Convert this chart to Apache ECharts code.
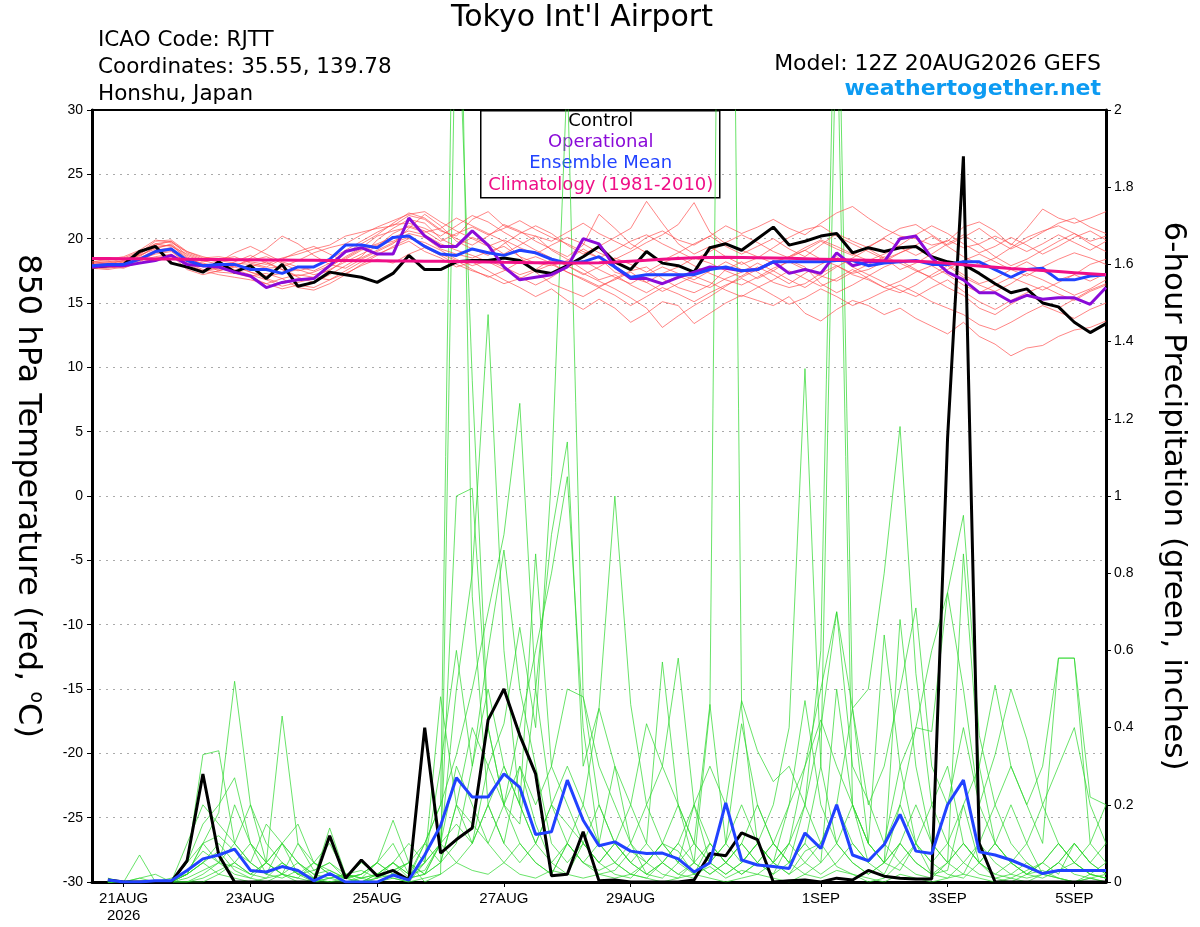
<!DOCTYPE html>
<html>
<head>
<meta charset="utf-8">
<script src="https://cdn.jsdelivr.net/npm/echarts@6.0.0/dist/echarts.min.js"></script>
<style>
html,body{margin:0;padding:0;background:#fff;}
#chart{width:1200px;height:927px;}
</style>
</head>
<body>
<div id="chart"></div>
<script>
// time: 6-hourly steps, hours relative to 21AUG 00Z
const tempStartHour = -12;   // temperatures start at 20AUG 12Z
const precipStartHour = -6;  // 6-hour precipitation starts at 20AUG 18Z
const stepHours = 6;

const xTickHours = [0, 48, 96, 144, 192, 264, 312, 360];
const xTickLabels = ['21AUG\n2026', '23AUG', '25AUG', '27AUG', '29AUG', '1SEP', '3SEP', '5SEP'];

// 850 hPa temperature (deg C)
const controlTemp = [17.8, 17.9,18.0,19.0,19.4,18.1,17.8,17.4,18.2, 17.4,17.9,16.9,18.0,16.3,16.6,17.4,17.2,
  17.0,16.6,17.3,18.7,17.6,17.6,18.2,18.3, 18.3,18.5,18.3,17.5,17.3,17.9,18.6,19.4,
  18.2,17.6,19.0,18.1,17.9,17.4,19.3,19.6, 19.1,20.0,20.9,19.5,19.8,20.2,20.4,18.9,
  19.3,19.0,19.3,19.4,18.6,18.2,18.0,17.3, 16.5,15.8,16.1,15.0,14.7,13.5,12.7,13.4];
const operationalTemp = [17.8, 17.9,17.9,18.1,18.3,18.7,18.0,17.9,17.8, 17.4,17.1,16.2,16.6,16.8,16.9,17.9,19.0,
  19.3,18.8,18.8,21.6,20.2,19.4,19.4,20.6, 19.5,17.8,16.8,17.0,17.2,17.8,20.0,19.6,
  17.8,16.9,16.9,16.5,17.0,17.4,17.8,17.7, 17.5,17.6,18.2,17.3,17.6,17.3,18.9,17.9,
  18.2,18.2,20.0,20.2,18.5,17.4,16.8,15.8, 15.8,15.1,15.6,15.3,15.4,15.4,14.9,16.2];
const meanTemp = [17.9, 18.0,18.0,18.4,19.0,19.2,18.3,17.9,18.0, 18.0,17.6,17.6,17.3,17.8,17.8,18.4,19.5,
  19.5,19.3,20.1,20.2,19.4,18.8,18.7,19.2, 18.9,18.7,19.1,18.9,18.4,18.1,18.2,18.6,
  17.8,17.0,17.2,17.2,17.2,17.2,17.6,17.8, 17.5,17.6,18.2,18.2,18.2,18.2,18.3,18.3,
  17.9,18.1,18.2,18.3,18.0,18.0,18.2,18.2, 17.6,17.0,17.6,17.7,16.8,16.8,17.1,17.2];
const climTemp = [18.46, 18.45,18.44,18.43,18.42,18.41,18.40,18.39,18.38, 18.37,18.36,18.35,18.34,18.33,18.32,18.31,18.30,
  18.29,18.28,18.27,18.26,18.25,18.24,18.22,18.20, 18.18,18.16,18.15,18.13,18.12,18.11,18.10,18.12,
  18.18,18.25,18.32,18.40,18.46,18.51,18.54,18.55, 18.54,18.52,18.50,18.47,18.44,18.41,18.38,18.35,
  18.32,18.29,18.27,18.25,18.18,18.08,17.98,17.88, 17.78,17.68,17.60,17.52,17.44,17.36,17.28,17.20];

// ensemble member temperatures
const memberTemp1 = [18.1, 18.2,18.4,18.9,19.8,19.9,19.0,18.5,18.6, 18.4,18.2,18.0,18.5,18.8,19.2,19.5,20.2, 20.5,20.8,21.0,21.8,21.5,20.6,20.2,21.5, 22.1,21.0,20.5,20.2,19.8,20.5,21.2,20.4, 19.8,19.2,20.1,20.6,19.9,19.5,20.2,21.0, 20.4,20.9,21.5,20.8,20.3,21.2,22.0,22.5, 21.6,20.8,20.2,20.0,19.5,19.8,20.9,21.3, 20.6,19.5,20.8,22.3,21.6,21.2,21.6,22.1];
const memberTemp2 = [17.8, 17.8,17.7,18.2,18.9,19.1,18.0,17.5,17.2, 17.0,16.8,16.5,16.9,17.2,17.0,16.8,17.5, 18.2,18.8,19.3,19.8,19.0,18.5,17.8,18.2, 17.5,16.8,16.2,15.5,16.1,15.2,14.5,15.3, 14.6,13.5,14.2,15.1,14.8,13.4,14.2,15.0, 15.6,15.2,14.8,15.5,14.2,13.6,14.5,15.2, 14.8,14.1,14.6,13.8,13.2,12.6,13.5,12.4, 11.8,10.9,11.5,11.7,12.4,12.9,13.1,13.6];
const memberTemp3 = [17.9, 18.0,18.1,18.6,19.4,19.5,18.4,18.1,17.8, 18.0,17.4,17.1,17.3,17.6,17.2,17.5,18.4, 19.1,19.5,19.8,20.4,20.1,19.2,18.8,18.5, 19.0,19.4,18.6,18.1,17.9,18.3,19.2,18.5, 17.4,17.0,16.6,17.3,17.8,18.5,18.1,17.5, 17.0,17.6,18.2,18.6,19.1,18.4,17.9,17.3, 17.6,18.2,18.9,19.4,18.6,18.0,17.2,16.5, 16.9,17.6,18.2,17.5,16.8,17.2,18.0,18.4];
const memberTemp4 = [17.9, 17.9,18.2,18.7,19.2,19.6,18.6,17.9,17.6, 18.2,18.7,18.1,17.6,17.0,16.6,17.2,17.9, 18.6,19.9,20.8,21.5,21.2,20.0,19.4,20.1, 19.6,18.8,19.5,20.2,19.1,18.4,17.6,16.8, 17.2,16.4,15.8,16.5,17.1,16.6,16.2,16.9, 17.4,18.1,17.5,16.8,16.2,17.0,17.8,18.5, 19.2,18.5,17.6,18.1,18.8,19.6,20.3,19.5, 18.6,17.9,18.4,19.1,19.8,20.4,19.6,19.0];
const memberTemp5 = [18.0, 18.1,18.0,18.5,19.1,19.3,18.2,17.8,17.9, 17.6,17.2,16.8,16.3,16.6,16.9,17.8,18.6, 19.3,20.2,20.6,20.9,20.5,20.8,21.6,21.0, 20.4,19.8,18.6,17.4,16.5,16.0,15.5,16.2, 16.9,17.5,17.8,16.9,16.2,15.8,16.4,17.6, 18.2,17.4,16.6,16.2,16.5,17.3,17.9,17.2, 16.8,16.2,15.8,16.4,17.2,17.9,17.0,16.4, 15.9,16.5,17.3,16.8,16.2,15.6,16.1,16.8];
const memberTemp6 = [18.2, 18.3,18.5,19.0,19.6,19.4,18.8,18.3,18.0, 17.8,18.5,19.2,20.2,19.6,18.7,18.0,17.7, 18.4,19.0,19.6,20.8,21.9,21.0,19.8,19.2, 18.7,19.6,20.4,21.0,20.4,19.5,18.8,19.4, 20.1,20.8,22.9,21.2,19.6,18.8,19.4,18.6, 18.0,18.5,19.3,20.1,20.7,21.0,20.2,19.6, 19.0,18.4,18.9,19.5,20.2,19.4,18.6,18.0, 18.5,19.3,20.1,20.6,21.0,20.4,19.8,20.2];
const memberTemp7 = [17.7, 17.7,17.9,18.4,18.8,19.0,18.1,17.6,17.4, 17.3,17.0,16.5,16.1,16.4,16.2,16.8,17.3, 17.9,18.4,18.1,18.8,19.3,18.7,18.0,17.5, 17.1,16.5,16.9,17.5,18.0,17.4,16.8,16.2, 15.6,14.8,15.5,16.2,15.7,15.1,15.8,16.4, 16.9,16.3,15.6,14.9,15.4,16.1,15.5,14.8, 15.3,15.9,16.4,15.8,15.1,14.6,14.1,13.3, 12.9,13.5,14.2,14.8,14.3,13.8,14.5,15.0];
const memberTemp8 = [17.9, 18.0,18.3,18.8,19.5,19.8,18.9,18.4,18.2, 18.9,19.4,18.8,18.2,17.8,17.5,18.1,18.9, 19.6,20.3,21.2,22.0,21.6,20.7,20.0,19.5, 20.2,21.1,20.6,19.8,19.2,18.6,19.5,21.9, 20.8,19.6,18.9,18.3,18.9,19.6,20.2,19.4, 18.8,19.4,20.0,19.2,18.6,19.5,20.4,19.8, 19.3,20.1,20.8,21.1,20.3,19.5,20.1,20.8, 19.9,19.2,19.8,20.5,21.2,21.6,20.9,20.4];
const memberTemp9 = [17.8, 17.9,17.8,18.3,18.6,18.8,17.8,17.5,17.7, 17.4,17.1,17.3,16.9,16.2,16.0,16.5,17.2, 18.0,18.7,19.4,20.0,19.7,19.1,18.4,17.9, 18.3,17.8,17.2,17.6,18.4,17.9,17.3,16.7, 16.1,15.4,14.6,13.1,14.0,14.8,15.5,16.3, 17.1,17.8,17.2,16.5,17.3,18.0,18.6,17.8, 17.2,16.6,16.0,15.5,16.2,16.8,15.9,15.1, 14.5,15.2,15.8,16.3,15.7,15.2,15.9,16.4];
const memberTemp10 = [18.2, 18.4,18.6,19.1,19.9,19.7,19.0,18.6,18.3, 18.1,18.0,17.7,17.8,18.3,18.9,19.3,19.6, 20.3,20.9,21.4,21.9,22.1,21.3,20.6,20.0, 19.4,19.9,19.3,18.8,19.5,20.1,19.6,18.9, 18.4,19.0,19.7,20.3,21.1,22.8,20.5,19.6, 19.1,18.6,18.1,18.6,19.3,19.9,19.4,18.8, 18.3,18.8,19.5,20.3,21.0,20.4,19.6,18.9, 19.4,20.1,19.5,18.8,19.4,20.1,20.6,19.9];
const memberTemp11 = [17.8, 17.8,18.0,18.4,19.0,19.2,18.3,18.0,17.8, 17.5,17.8,18.2,17.6,17.1,17.4,17.9,18.5, 19.2,19.6,20.1,20.6,20.3,19.6,19.1,18.7, 18.2,17.6,17.0,16.4,17.0,17.8,18.3,17.6, 17.0,16.5,17.2,17.8,17.3,16.8,17.5,18.2, 17.6,16.9,17.5,18.3,17.8,16.5,15.8,16.4, 17.1,17.8,18.3,17.6,16.9,16.2,15.6,14.6, 14.1,14.9,15.6,15.1,14.6,15.3,16.0,16.5];
const memberTemp12 = [18.0, 18.1,18.3,18.7,19.3,19.5,18.5,18.0,17.5, 17.9,18.3,18.6,18.1,17.5,17.8,18.4,19.1, 19.8,20.5,21.1,21.2,20.8,20.2,21.0,21.8, 21.3,20.5,19.8,19.1,18.5,17.9,17.2,17.8, 18.5,18.0,17.4,18.1,18.6,17.9,17.3,16.8, 16.4,17.0,17.7,18.2,17.6,17.1,16.7,17.4, 18.0,18.6,18.1,17.5,17.0,17.6,18.3,18.8, 18.2,17.6,17.1,17.8,18.4,18.9,18.5,18.0];
const memberTemp13 = [17.7, 17.6,17.8,18.1,18.5,18.7,17.6,17.2,17.5, 17.8,17.4,16.9,16.5,16.8,17.0,17.6,18.2, 18.5,19.1,19.7,20.1,19.5,18.8,18.3,17.6, 17.0,17.5,18.2,18.6,18.1,17.4,16.9,16.3, 16.8,17.4,16.6,15.9,16.5,17.1,16.6,16.0, 15.5,16.2,16.8,17.5,16.9,16.3,16.9,17.6, 16.9,16.2,16.7,17.4,17.9,17.2,16.4,15.8, 16.4,17.0,16.5,16.0,16.6,17.2,16.7,17.3];
const memberTemp14 = [18.1, 18.2,18.2,18.8,19.6,19.8,18.7,18.2,18.4, 18.6,18.1,17.8,18.4,19.0,19.4,18.8,18.2, 18.8,19.4,20.4,21.0,20.6,19.8,20.4,20.9, 20.3,20.8,21.4,20.7,20.1,19.6,19.0,18.5, 19.1,19.8,20.3,19.6,19.0,18.4,19.0,19.7, 20.3,19.7,19.0,18.5,19.1,19.8,19.2,18.7, 19.4,20.0,19.3,18.7,19.3,19.9,19.3,19.6, 20.2,19.6,19.0,19.6,20.3,19.7,19.1,19.8];
const memberTemps = [memberTemp1, memberTemp2, memberTemp3, memberTemp4, memberTemp5, memberTemp6, memberTemp7,
  memberTemp8, memberTemp9, memberTemp10, memberTemp11, memberTemp12, memberTemp13, memberTemp14];

// 6-hour precipitation (inches)
const controlPrecip = [0.005,0,0,0,0,0.055,0.28,0.07, 0,0,0,0,0,0,0.12,0.01,
  0.057,0.016,0.03,0.005,0.40,0.075,0.11,0.14, 0.42,0.50,0.38,0.28,0.016,0.02,0.13,0.003,
  0.005,0,0,0,0,0.005,0.074,0.068, 0.127,0.11,0,0.003,0.005,0,0.01,0.005,
  0.03,0.015,0.01,0.008,0.008,1.15,1.88,0.1, 0,0,0,0,0,0,0,0];
const meanPrecip = [0.005,0,0,0.003,0.003,0.03,0.06,0.07, 0.085,0.03,0.026,0.04,0.03,0.003,0.022,0,
  0,0,0.018,0.005,0.07,0.146,0.27,0.22, 0.22,0.28,0.245,0.123,0.13,0.264,0.16,0.094,
  0.104,0.08,0.074,0.075,0.06,0.026,0.05,0.205, 0.057,0.044,0.04,0.035,0.127,0.087,0.20,0.07,
  0.055,0.097,0.175,0.08,0.074,0.2,0.264,0.078, 0.07,0.057,0.04,0.022,0.03,0.03,0.03,0.03];

const memberPrecip1 = [0,0,0,0,0,0.02,0.05,0.08, 0.03,0.01,0,0.02,0.05,0.01,0,0, 0,0.01,0.03,0.05,0,0.02,2.4,1.3, 0.4,0.2,0.1,0.05,0.02,0.1,0.05,0.02, 0.03,0.08,0.05,0.02,0.01,0.05,0.45,4.5, 0.45,0.1,0.05,0.02,0.08,0.1,0.04,0.02, 0,0.01,0.05,0.1,0.02,0.03,0.2,0.05, 0.01,0,0.02,0.03,0.01,0,0.02,0.01];
const memberPrecip2 = [0,0,0.01,0,0,0.05,0.33,0.34, 0.1,0.05,0.02,0.01,0.03,0.01,0.14,0.02, 0.01,0,0.02,0.01,0.1,0.2,3.0,0.74, 0.2,0.1,0.3,0.15,0.05,0.02,0.1,0.05, 0.02,0.01,0.05,0.1,0.08,0.02,0.04,0.01, 0.03,0.02,0.05,0.1,0.2,0.6,2.6,0.45, 0.1,0.05,0.03,0.1,0.05,0.02,0.01,0.05, 0.1,0.05,0.02,0.01,0.03,0.05,0.02,0.01];
const memberPrecip3 = [0,0,0.07,0,0,0.02,0.1,0.18, 0.52,0.2,0.1,0.05,0.02,0.03,0.05,0.01, 0,0.02,0.05,0.02,0.03,0.1,0.5,0.8, 1.47,0.6,0.2,0.1,0.05,0.1,0.05,0.03, 0.05,0.02,0.01,0.05,0.1,0.05,0.02,0.05, 0.1,0.05,0.02,0.05,0.1,0.3,2.3,0.2, 0.05,0.1,0.05,0.02,0.01,0.05,0.1,0.05, 0.02,0.01,0.03,0.05,0.1,0.05,0.02,0.01];
const memberPrecip4 = [0,0,0,0,0,0.05,0.15,0.2, 0.27,0.1,0.05,0.43,0.1,0.05,0.02,0.01, 0.02,0.05,0.16,0.05,0.1,0.2,0.33,0.5, 0.7,0.9,1.24,0.5,0.2,0.1,0.05,0.1, 0.05,0.1,0.02,0.05,0.02,0.01,0.05,0.1, 0.05,0.1,0.2,0.4,1.33,0.3,0.1,0.05, 0.02,0.05,0.1,0.05,0.02,0.01,0.05,0.1, 0.05,0.02,0.01,0.02,0.05,0.02,0.01,0];
const memberPrecip5 = [0,0,0,0,0,0.02,0.05,0.1, 0.05,0.02,0.05,0.1,0.05,0.02,0.01,0, 0,0.02,0.01,0,0.05,0.48,0.2,0.1, 0.3,0.41,0.66,0.4,1.05,2.1,0.48,0.2, 0.1,0.05,0.02,0.01,0.05,0.1,0.05,0.02, 0.05,0.1,0.05,0.2,0.3,0.5,0.7,0.45, 0.5,0.8,1.18,0.54,0.2,0.1,0.05,0.02, 0.01,0.02,0.05,0.02,0.01,0,0.01,0.02];
const memberPrecip6 = [0,0,0.01,0.02,0,0.1,0.2,0.15, 0.1,0.05,0.15,0.1,0.05,0.02,0.03,0.01, 0.05,0.02,0.05,0.1,0.05,0.1,1.0,1.02, 0.4,0.2,0.15,0.5,0.9,1.14,0.3,0.45, 1.0,0.46,0.2,0.1,0.05,0.02,0.1,0.05, 0.02,0.05,0.1,0.05,0.1,0.05,0.1,0.2, 0.1,0.05,0.2,0.4,0.6,0.75,0.95,0.38, 0.2,0.1,0.05,0.02,0.05,0.1,0.05,0.02];
const memberPrecip7 = [0,0,0,0,0,0.03,0.08,0.05, 0.1,0.2,0.05,0.02,0.1,0.03,0.05,0.02, 0.01,0.05,0.02,0.01,0.02,0.05,0.1,0.3, 0.6,0.86,0.5,0.3,0.1,0.05,0.1,0.2, 0.1,0.2,0.41,0.3,0.58,0.2,0.05,0.02, 0.05,0.1,0.05,0.02,0.05,0.1,0.2,0.1, 0.05,0.1,0.2,0.1,0.05,0.1,0.2,0.3, 0.51,0.3,0.2,0.1,0.58,0.58,0.22,0.2];
const memberPrecip8 = [0,0,0,0,0,0,0.02,0.05, 0.02,0.01,0.05,0.02,0.01,0,0.01,0.02, 0.03,0.01,0.05,0.02,0.1,0.05,0.2,0.4, 0.3,0.2,0.4,0.6,0.8,1.05,0.4,0.1, 0.3,0.2,0.1,0.57,0.2,0.1,0.05,0.1, 0.41,0.2,0.1,0.05,0.2,0.4,0.70,0.3, 0.21,0.1,0.3,0.4,0.39,0.75,0.5,0.2, 0.1,0.05,0.02,0.05,0.1,0.05,0.02,0.05];
const memberPrecip9 = [0,0,0,0,0,0.01,0.03,0.05, 0.04,0.02,0.01,0.05,0.02,0.05,0.1,0.02, 0.01,0.02,0.03,0.05,0.02,0.1,0.3,0.2, 0.1,0.2,0.3,0.2,0.3,0.5,0.48,0.3, 0.2,0.1,0.05,0.1,0.05,0.2,0.3,0.2, 0.47,0.34,0.26,0.3,0.2,0.1,0.2,0.45, 0.2,0.3,0.5,0.71,0.3,0.2,0.4,0.2, 0.33,0.5,0.37,0.2,0.1,0.05,0.1,0.05];
const memberPrecip10 = [0,0,0,0,0,0.02,0.05,0.02, 0.05,0.02,0.05,0.1,0.02,0.01,0.02,0.01, 0.02,0.05,0.02,0.01,0.02,0.1,0.05,0.1, 0.2,0.3,0.2,0.1,0.2,0.3,0.2,0.45, 0.3,0.1,0.2,0.3,0.2,0.1,0.46,0.1, 0.2,0.1,0.05,0.1,0.3,0.42,0.3,0.2, 0.1,0.64,0.3,0.1,0.2,0.3,0.1,0.05, 0.1,0.2,0.1,0.2,0.3,0.4,0.2,0.1];
const memberPrecip11 = [0.01,0,0,0,0.01,0.02,0.1,0.12, 0.08,0.05,0.02,0.1,0.15,0.05,0.02,0, 0.01,0.02,0.05,0.01,0.05,0.1,0.15,0.1, 0.2,0.1,0.05,0.1,0.2,0.15,0.1,0.05, 0.1,0.05,0.1,0.05,0.02,0.05,0.1,0.05, 0.1,0.05,0.02,0.1,0.05,0.02,0.05,0.1, 0.05,0.02,0.1,0.05,0.02,0.05,0.1,0.05, 0.02,0.05,0.1,0.02,0.05,0.1,0.05,0.1];
const memberPrecip12 = [0,0,0,0,0,0,0.01,0.03, 0.05,0.1,0.02,0.05,0.02,0,0.01,0.02, 0,0.01,0.02,0.05,0.02,0.05,0.2,0.15, 0.1,0.05,0.1,0.05,0.02,0.1,0.2,0.1, 0.05,0.02,0.05,0.1,0.2,0.05,0.02,0.05, 0.1,0.2,0.1,0.2,0.47,0.2,0.1,0.05, 0.02,0.05,0.68,0.3,0.1,0.05,0.02,0.1, 0.2,0.3,0.2,0.3,0.58,0.58,0.1,0.2];
const memberPrecip13 = [0,0,0,0,0,0,0,0.02, 0.01,0,0.01,0.02,0,0,0,0.01, 0,0,0.01,0,0.01,0.02,0.05,0.03, 0.02,0.05,0.02,0.01,0.03,0.02,0.01,0.02, 0.01,0.02,0.01,0,0.01,0.02,0.01,0, 0.01,0.02,0.01,0,0.02,0.01,0.03,0.02, 0.01,0,0.02,0.01,0,0.01,0.02,0.01, 0,0.01,0,0.02,0.01,0,0.01,0];
const memberPrecip14 = [0,0,0,0,0,0.05,0.1,0.05, 0.2,0.1,0.05,0.02,0.01,0.05,0.03,0.01, 0.02,0.05,0.1,0.02,0.05,0.3,0.6,0.3, 0.5,0.3,0.2,0.85,0.3,0.2,0.1,0.05, 0.1,0.05,0.02,0.05,0.1,0.2,0.1,0.05, 0.02,0.05,0.1,0.05,0.02,0.05,0.5,0.2, 0.1,0.05,0.1,0.2,0.1,0.05,0.85,0.3, 0.1,0.05,0.02,0.05,0.02,0.1,0.05,0.02];
const memberPrecips = [memberPrecip1, memberPrecip2, memberPrecip3, memberPrecip4, memberPrecip5, memberPrecip6, memberPrecip7,
  memberPrecip8, memberPrecip9, memberPrecip10, memberPrecip11, memberPrecip12, memberPrecip13, memberPrecip14];

const FONT = '"Liberation Sans", Arial, Helvetica, sans-serif';
const FONT2 = '"DejaVu Sans", "Liberation Sans", sans-serif';
const C_CONTROL = '#000000';
const C_OPER = '#8a0ad8';
const C_MEAN = '#2142ff';
const C_CLIM = '#ef0f87';
const C_RED = '#ff4a4a';
const C_GREEN = '#2ed82e';

function pairs(vals, start) {
  return vals.map((v, i) => [start + stepHours * i, v]);
}
const labelMap = {};
xTickHours.forEach((h, i) => { labelMap[h] = xTickLabels[i]; });

const series = [];
memberPrecips.forEach((arr, k) => {
  series.push({ name: 'gp' + k, type: 'line', yAxisIndex: 1, data: pairs(arr, precipStartHour), symbol: 'none', silent: true,
    lineStyle: { color: C_GREEN, width: 0.8, opacity: 0.9 }, z: 1 });
});
memberTemps.forEach((arr, k) => {
  series.push({ name: 'rt' + k, type: 'line', yAxisIndex: 0, data: pairs(arr, tempStartHour), symbol: 'none', silent: true,
    lineStyle: { color: C_RED, width: 0.8, opacity: 0.85 }, z: 2 });
});
series.push({ name: 'Control precip', type: 'line', yAxisIndex: 1, data: pairs(controlPrecip, precipStartHour), symbol: 'none',
  lineStyle: { color: C_CONTROL, width: 3 }, z: 3 });
series.push({ name: 'Mean precip', type: 'line', yAxisIndex: 1, data: pairs(meanPrecip, precipStartHour), symbol: 'none',
  lineStyle: { color: C_MEAN, width: 3 }, z: 3 });
series.push({ name: 'Control', type: 'line', yAxisIndex: 0, data: pairs(controlTemp, tempStartHour), symbol: 'none',
  lineStyle: { color: C_CONTROL, width: 3 }, z: 4 });
series.push({ name: 'Operational', type: 'line', yAxisIndex: 0, data: pairs(operationalTemp, tempStartHour), symbol: 'none',
  lineStyle: { color: C_OPER, width: 3 }, z: 4 });
series.push({ name: 'Ensemble Mean', type: 'line', yAxisIndex: 0, data: pairs(meanTemp, tempStartHour), symbol: 'none',
  lineStyle: { color: C_MEAN, width: 3 }, z: 4 });
series.push({ name: 'Climatology', type: 'line', yAxisIndex: 0, data: pairs(climTemp, tempStartHour), symbol: 'none',
  lineStyle: { color: C_CLIM, width: 3 }, z: 4 });

const chart = echarts.init(document.getElementById('chart'), null, { renderer: 'canvas' });
chart.setOption({
  animation: false,
  backgroundColor: '#ffffff',
  textStyle: { fontFamily: FONT },
  grid: { left: 92, right: 94, top: 110, bottom: 45, show: true, borderColor: '#000', borderWidth: 2, backgroundColor: 'transparent' },
  xAxis: {
    type: 'value', min: -12, max: 372,
    axisLine: { show: true, onZero: false, lineStyle: { color: '#000', width: 3 } },
    axisTick: { show: true, customValues: xTickHours, length: 5, lineStyle: { color: '#000', width: 1 } },
    axisLabel: { customValues: xTickHours, formatter: v => labelMap[v] || '', color: '#000', fontSize: 15,
      lineHeight: 17, margin: 8, fontFamily: FONT },
    splitLine: { show: false }
  },
  yAxis: [
    {
      type: 'value', min: -30, max: 30, interval: 5, position: 'left',
      axisLine: { show: true, onZero: false, lineStyle: { color: '#000', width: 3 } },
      axisTick: { show: true, length: 5, lineStyle: { color: '#000', width: 1 } },
      axisLabel: { color: '#000', fontSize: 14, margin: 9, fontFamily: FONT },
      splitLine: { show: true, showMinLine: false, showMaxLine: false, lineStyle: { color: '#aaaaaa', width: 1, type: [2, 5] } },
      name: '850 hPa Temperature (red, {sup|o}C)', nameLocation: 'middle', nameGap: 47, nameRotate: -90,
      nameTextStyle: { color: '#000', fontSize: 32, fontFamily: FONT2,
        rich: { sup: { fontSize: 19, color: '#000', fontFamily: FONT2, padding: [0, 0, 16, 0] } } }
    },
    {
      type: 'value', min: 0, max: 2, interval: 0.2, position: 'right',
      axisLine: { show: true, onZero: false, lineStyle: { color: '#000', width: 3 } },
      axisTick: { show: true, length: 5, lineStyle: { color: '#000', width: 1 } },
      axisLabel: { color: '#000', fontSize: 14, margin: 8, fontFamily: FONT },
      splitLine: { show: false },
      name: '6-hour Precipitation (green, inches)', nameLocation: 'middle', nameGap: 52, nameRotate: -90,
      nameTextStyle: { color: '#000', fontSize: 31, fontFamily: FONT2 }
    }
  ],
  series: series,
  graphic: [
    { type: 'text', left: 451, top: 3, style: { text: "Tokyo Int'l Airport", fontSize: 30, fontFamily: FONT2, fill: '#000' } },
    { type: 'text', left: 98, top: 29, style: { text: 'ICAO Code: RJTT', fontSize: 21.5, fontFamily: FONT2, fill: '#000' } },
    { type: 'text', left: 98, top: 56, style: { text: 'Coordinates: 35.55, 139.78', fontSize: 21.5, fontFamily: FONT2, fill: '#000' } },
    { type: 'text', left: 98, top: 83, style: { text: 'Honshu, Japan', fontSize: 21.5, fontFamily: FONT2, fill: '#000' } },
    { type: 'text', right: 99, top: 53, style: { text: 'Model: 12Z 20AUG2026 GEFS', fontSize: 22, fontFamily: FONT2, fill: '#000' } },
    { type: 'text', right: 99, top: 78, style: { text: 'weathertogether.net', fontSize: 22, fontWeight: 'bold', fontFamily: FONT2, fill: '#0d9bf2' } },
    { type: 'group', left: 480, top: 110, z: 100, children: [
      { type: 'rect', shape: { x: 0, y: 0, width: 239, height: 87 }, style: { fill: '#fff', stroke: '#000', lineWidth: 1.5 } },
      { type: 'text', style: { text: 'Control', x: 120, y: 11, fontSize: 18, fontFamily: FONT2, fill: C_CONTROL, align: 'center', verticalAlign: 'middle' } },
      { type: 'text', style: { text: 'Operational', x: 120, y: 32, fontSize: 18, fontFamily: FONT2, fill: C_OPER, align: 'center', verticalAlign: 'middle' } },
      { type: 'text', style: { text: 'Ensemble Mean', x: 120, y: 53, fontSize: 18, fontFamily: FONT2, fill: C_MEAN, align: 'center', verticalAlign: 'middle' } },
      { type: 'text', style: { text: 'Climatology (1981-2010)', x: 120, y: 75, fontSize: 18, fontFamily: FONT2, fill: C_CLIM, align: 'center', verticalAlign: 'middle' } }
    ] }
  ]
});
</script>
</body>
</html>
